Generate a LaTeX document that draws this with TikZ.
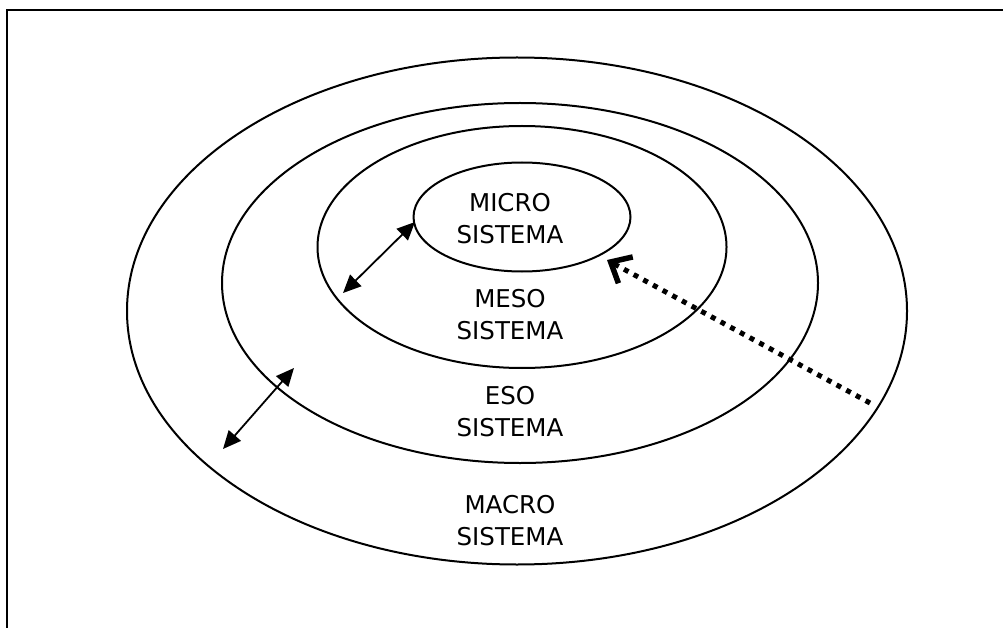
\documentclass[tikz,border=0pt]{standalone}
\usepackage{fontspec}
\setmainfont{DejaVu Sans}
\usetikzlibrary{arrows.meta,shapes.geometric}
\begin{document}
\begin{tikzpicture}[x=1pt,y=-1pt,
  ring/.style={draw, line width=2pt, ellipse, inner sep=0pt},
  lbl/.style={align=center, inner sep=0pt, font=\fontsize{24.5}{32}\selectfont},
  twoway/.style={{Triangle[length=18pt,width=16pt]}-{Triangle[length=18pt,width=16pt]}, line width=1.8pt},
  influence/.style={-{Straight Barb[length=17pt,width=30pt,line width=5.5pt]}, line width=5pt, dash pattern=on 5pt off 6pt}]
\useasboundingbox (0,0) rectangle (1003,628);
\draw[line width=2.5pt] (7,628) -- (7,10) -- (1003,10);
\node[ring, minimum width=780pt, minimum height=507pt] (macro) at (517,311) {};
\node[ring, minimum width=596pt, minimum height=360pt] (eso) at (520,283) {};
\node[ring, minimum width=409pt, minimum height=242pt] (meso) at (522,247) {};
\node[ring, minimum width=217pt, minimum height=109pt] (micro) at (522,217) {};
\node[lbl] (tmicro) at (510,219) {MICRO\\SISTEMA};
\node[lbl] (tmeso) at (510,315) {MESO\\SISTEMA};
\node[lbl] (teso) at (510,412) {ESO\\SISTEMA};
\node[lbl] (tmacro) at (510,521) {MACRO\\SISTEMA};
\coordinate (a1) at (223,449);
\coordinate (a2) at (294,368);
\coordinate (b1) at (343,293);
\coordinate (b2) at (415,222);
\coordinate (c1) at (870,403);
\coordinate (c2) at (607,260);
\draw[twoway] (a1) -- (a2);
\draw[twoway] (b1) -- (b2);
\draw[influence] (c1) -- (c2);
\end{tikzpicture}
\end{document}
